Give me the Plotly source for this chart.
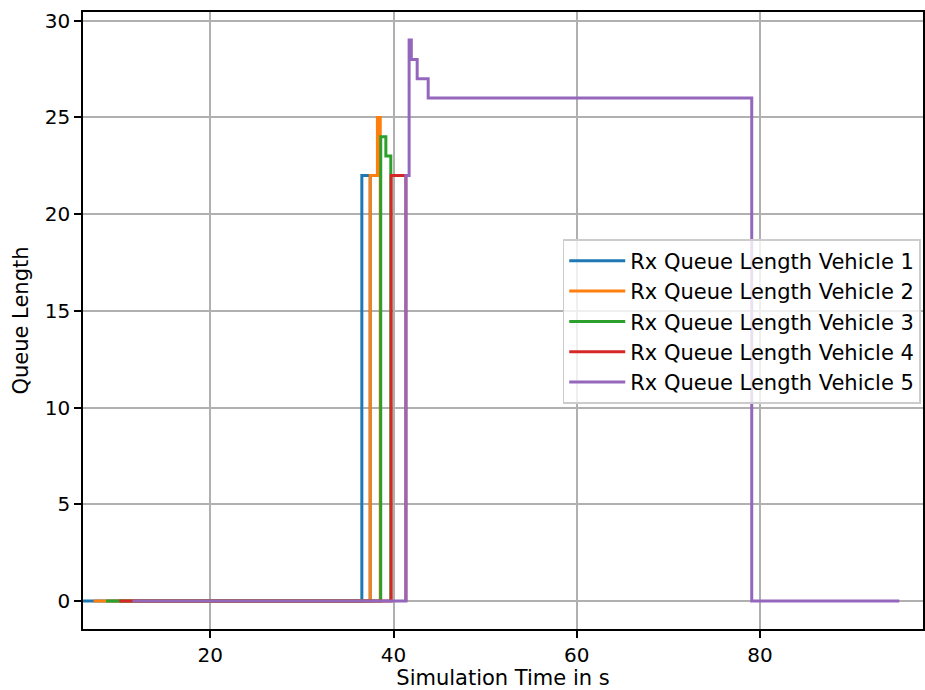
import plotly.graph_objects as go

# Data (step series: time in s, queue length)
t_v1 = [6.11, 36.54, 37.45]
q_v1 = [0, 22, 0]
t_v2 = [7.27, 37.45, 38.24, 38.55]
q_v2 = [0, 22, 25, 0]
t_v3 = [8.62, 38.60, 39.16, 39.70]
q_v3 = [0, 24, 23, 0]
t_v4 = [10.07, 39.74, 41.35]
q_v4 = [0, 22, 0]
t_v5 = [11.52, 41.35, 41.70, 41.94, 42.58, 43.78, 79.09, 95.19]
q_v5 = [0, 22, 29, 28, 27, 26, 0, 0]

names = ["Rx Queue Length Vehicle 1", "Rx Queue Length Vehicle 2",
         "Rx Queue Length Vehicle 3", "Rx Queue Length Vehicle 4",
         "Rx Queue Length Vehicle 5"]
colors = ["#1f77b4", "#ff7f0e", "#2ca02c", "#d62728", "#9467bd"]
series = [(t_v1, q_v1), (t_v2, q_v2), (t_v3, q_v3), (t_v4, q_v4), (t_v5, q_v5)]

x_ticks = [20, 40, 60, 80]
y_ticks = [0, 5, 10, 15, 20, 25, 30]

FONT = "DejaVu Sans"

fig = go.Figure()
for i, ((t, q), name, col) in enumerate(zip(series, names, colors)):
    fig.add_trace(go.Scatter(x=t, y=q, mode="lines", name=name,
                             line=dict(color=col, width=3, shape="hv"),
                             legendgroup=f"g{i}"))

axis_common = dict(showline=True, linecolor="black", linewidth=1.6, mirror=True,
                   ticks="outside", ticklen=7, tickwidth=1.6, tickcolor="black",
                   showgrid=True, gridcolor="#b0b0b0", gridwidth=1.6,
                   zeroline=False,
                   tickfont=dict(family=FONT, size=20, color="black"))

fig.update_xaxes(range=[6.11, 97.78], tickvals=x_ticks, automargin=True,
                 title=dict(text="Simulation Time in s", standoff=13,
                            font=dict(family=FONT, size=21, color="black")),
                 **axis_common)
fig.update_yaxes(range=[-1.45, 30.45], tickvals=y_ticks, automargin=False,
                 title=dict(text="Queue Length", standoff=10,
                            font=dict(family=FONT, size=21, color="black")),
                 **axis_common)

fig.update_layout(
    width=925, height=690,
    margin=dict(l=83, r=2, t=12, b=61, autoexpand=False),
    plot_bgcolor="white", paper_bgcolor="white",
    font=dict(family=FONT, size=20, color="black"),
    legend=dict(x=0.571, y=0.632, xanchor="left", yanchor="top",
                bgcolor="rgba(255,255,255,0.8)", bordercolor="#cccccc", borderwidth=1.6,
                font=dict(family=FONT, size=21, color="black"),
                tracegroupgap=0, itemwidth=56),
    showlegend=True,
)

fig.write_html("out.html", config={"displayModeBar": False},
               post_script="document.body.style.margin='0';document.body.style.padding='0';")
